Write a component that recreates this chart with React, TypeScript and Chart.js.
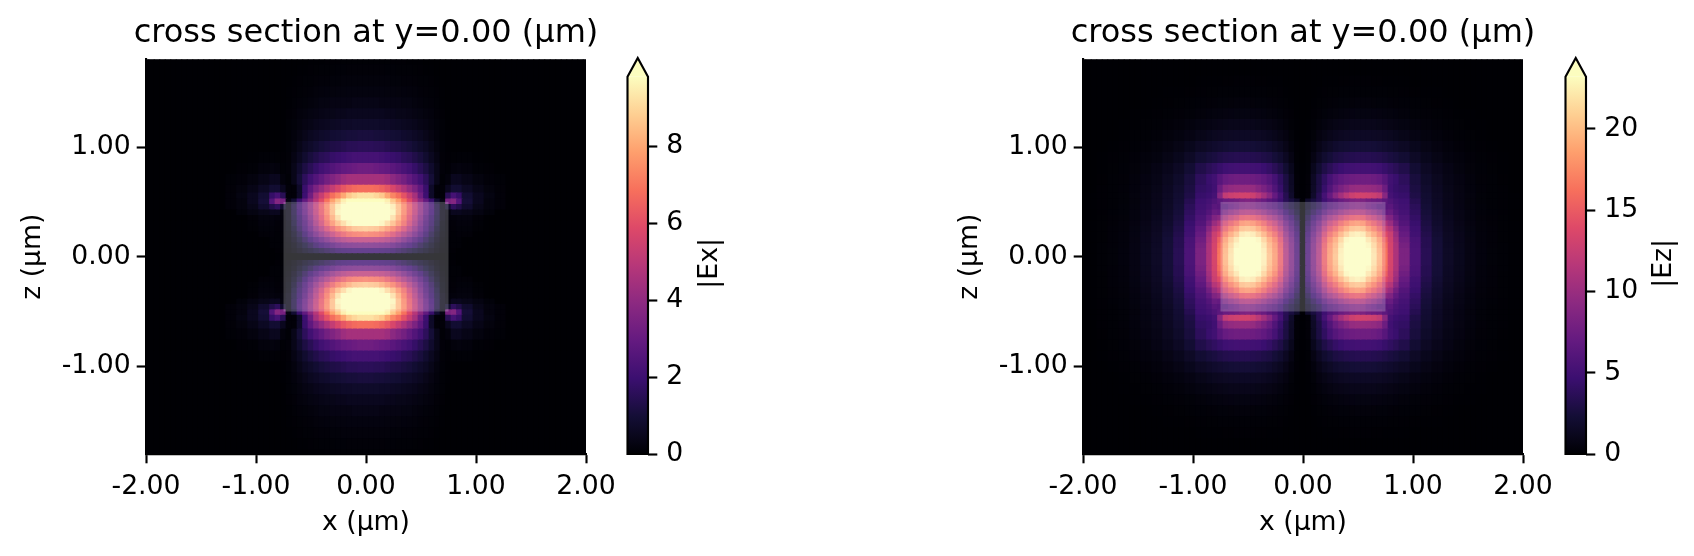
import React, { useEffect, useRef } from "react";
import { Chart, registerables } from "chart.js";

Chart.register(...registerables);

const FONT = "'DejaVu Sans'";
const TICK_PX = 26.67;
const TITLE_PX = 32;

const magmaStops = ["#000004", "#140e36", "#3b0f70", "#641a80", "#8c2981", "#b73779", "#de4968", "#f7705c", "#fe9f6d", "#fecf92", "#fcfdbf"];

const columnStep = 0.05;
const columnCount = 40;
// upper edge of each row of the half grid, the first row is centred on z = 0
const rowEdges = [0.025, 0.075, 0.125, 0.175, 0.225, 0.275, 0.325, 0.375, 0.425, 0.475, 0.525, 0.58, 0.65, 0.75, 0.85, 0.95, 1.05, 1.15, 1.25, 1.35, 1.45, 1.55, 1.65, 1.75, 1.85];
const xTicks = [-2, -1, 0, 1, 2];
const zTicks = [-1, 0, 1];
const exBarTicks = [0, 2, 4, 6, 8];
const ezBarTicks = [0, 5, 10, 15, 20];
const exMax = 9.8;
const ezMax = 23.2;
const guideX = [-0.75, 0.75];
const guideZ = [-0.5, 0.5];

// |Ex| on one quadrant: one list per row, from x = 0 outwards
const exField = [
  [0.06, 0.06, 0.06, 0.06, 0.06, 0.06, 0.05, 0.05, 0.05, 0.04, 0.04, 0.03, 0.03, 0.02, 0.02, 0.01, 0.01],
  [2, 2, 2, 1.95, 1.9, 1.8, 1.6, 1.4, 1.2, 1, 0.8, 0.6, 0.4, 0.2, 0.08, 0.04, 0.03],
  [3.3, 3.3, 3.25, 3.2, 3.1, 2.9, 2.6, 2.3, 2, 1.7, 1.3, 0.95, 0.6, 0.3, 0.12, 0.05, 0.05, 0.05],
  [5, 5, 4.95, 4.85, 4.6, 4.3, 3.9, 3.4, 2.9, 2.4, 1.9, 1.4, 0.9, 0.45, 0.15, 0.05, 0.05, 0.06],
  [7, 6.9, 6.8, 6.6, 6.2, 5.7, 5.1, 4.5, 3.9, 3.2, 2.5, 1.8, 1.2, 0.6, 0.2, 0.08, 0.05, 0.1, 0.08, 0.08],
  [8.6, 8.5, 8.4, 8, 7.5, 7, 6.3, 5.6, 4.7, 3.9, 3, 2.2, 1.5, 0.8, 0.25, 0.1, 0.08, 0.12, 0.12, 0.12, 0.04, 0.04],
  [10.3, 10.2, 10, 9.6, 9, 8.3, 7.4, 6.5, 5.4, 4.4, 3.3, 2.4, 1.7, 1, 0.3, 0.1, 0.1, 0.15, 0.15, 0.15, 0.05, 0.05],
  [12, 11.9, 11.6, 11, 10.2, 9.1, 8, 6.9, 5.8, 4.7, 3.6, 2.6, 1.8, 1.1, 0.4, 0.15, 0.15, 0.2, 0.2, 0.2, 0.08, 0.08],
  [12.5, 12.4, 12.1, 11.5, 10.7, 9.6, 8.4, 7.2, 6.1, 5, 3.9, 2.9, 2, 1.2, 0.4, 0.2, 0.5, 0.5, 0.4, 0.4, 0.25, 0.25, 0.12, 0.12],
  [12.4, 12.2, 11.9, 11.3, 10.4, 9.4, 8.4, 7.3, 6.2, 5.1, 4, 3, 2.1, 1.2, 0.4, 0.8, 1.6, 1.3, 0.8, 0.8, 0.4, 0.4, 0.2, 0.2, 0.1, 0.1],
  [11.2, 11.1, 10.8, 10.2, 9.5, 8.7, 7.9, 6.9, 5.9, 4.9, 3.9, 2.9, 1.9, 0.9, 0.3, 3.4, 3.7, 2.5, 1, 1, 0.5, 0.5, 0.2, 0.2, 0.1, 0.1],
  [9.2, 9.2, 9, 8.7, 8, 7.3, 6.8, 6.1, 5.3, 4.5, 3.2, 2, 0.7, 0.1, 0.1, 1.5, 2.2, 1.8, 0.9, 0.9, 0.5, 0.5, 0.25, 0.25, 0.1, 0.1],
  [6.8, 6.8, 6.7, 6.5, 6.2, 5.7, 5.2, 4.7, 4.1, 3.5, 2.8, 1.9, 0.7, 0.1, 0.1, 0.5, 0.9, 0.9, 0.6, 0.6, 0.35, 0.35, 0.18, 0.18, 0.08, 0.08],
  [4.5, 4.5, 4.5, 4.5, 4.3, 3.9, 3.6, 3.3, 2.9, 2.5, 2.1, 1.6, 1, 0.4, 0.05, 0.15, 0.5, 0.5, 0.35, 0.35, 0.2, 0.2, 0.1, 0.1, 0.05, 0.05],
  [3.2, 3.2, 3.1, 3, 2.9, 2.7, 2.5, 2.3, 2.1, 1.8, 1.5, 1.2, 0.8, 0.4, 0.1, 0.05, 0.15, 0.2, 0.15, 0.15, 0.06, 0.06, 0.03, 0.03],
  [2.2, 2.2, 2.2, 2.1, 2, 1.9, 1.8, 1.6, 1.5, 1.3, 1.1, 0.85, 0.55, 0.3, 0.08, 0.03, 0.04, 0.06, 0.05, 0.05, 0.02, 0.02],
  [1.55, 1.55, 1.5, 1.5, 1.4, 1.3, 1.25, 1.15, 1.05, 0.9, 0.75, 0.6, 0.4, 0.2, 0.07, 0.02],
  [1.1, 1.1, 1.05, 1.05, 1, 0.95, 0.9, 0.8, 0.75, 0.65, 0.55, 0.42, 0.28, 0.16, 0.06, 0.02],
  [0.75, 0.75, 0.75, 0.7, 0.7, 0.65, 0.6, 0.55, 0.5, 0.45, 0.35, 0.3, 0.2, 0.12, 0.05],
  [0.5, 0.5, 0.5, 0.5, 0.45, 0.45, 0.4, 0.4, 0.35, 0.3, 0.25, 0.2, 0.15, 0.08, 0.03],
  [0.35, 0.35, 0.35, 0.3, 0.3, 0.3, 0.3, 0.25, 0.25, 0.2, 0.15, 0.12, 0.1, 0.05, 0.02],
  [0.22, 0.22, 0.22, 0.21, 0.2, 0.2, 0.18, 0.17, 0.15, 0.13, 0.1, 0.08, 0.06, 0.03, 0.01],
  [0.14, 0.14, 0.14, 0.13, 0.13, 0.12, 0.11, 0.1, 0.09, 0.08, 0.06, 0.05, 0.03, 0.02],
  [0.08, 0.08, 0.08, 0.08, 0.07, 0.07, 0.06, 0.06, 0.05, 0.04, 0.03, 0.02, 0.01],
  [0.04, 0.04, 0.04, 0.04, 0.04, 0.03, 0.03, 0.03, 0.02, 0.02, 0.01],
];

// |Ez| on one quadrant: one list per row, from x = 0 outwards
const ezField = [
  [0.2, 5.5, 8.3, 11, 15, 18, 20, 22.5, 24.5, 26, 26.5, 26, 23.5, 21.8, 19.5, 16.5, 13.5, 11, 8.3, 8.3, 5.6, 5.6, 3.5, 3.5, 2.4, 2.4, 1.6, 1.6, 1.1, 1.1, 0.7, 0.7, 0.4, 0.4, 0.25, 0.25, 0.12, 0.12, 0.05, 0.05],
  [0.2, 5.4, 8.2, 10.9, 14.9, 17.8, 19.8, 22.3, 24.3, 25.7, 26.2, 25.7, 23.3, 21.6, 19.3, 16.4, 13.4, 11, 8.3, 8.3, 5.6, 5.6, 3.5, 3.5, 2.4, 2.4, 1.6, 1.6, 1.1, 1.1, 0.7, 0.7, 0.4, 0.4, 0.25, 0.25, 0.12, 0.12, 0.05, 0.05],
  [0.2, 5.3, 8.1, 10.7, 14.6, 17.5, 19.4, 21.8, 23.8, 25.2, 25.7, 25.2, 22.8, 21.1, 18.9, 16, 13.3, 10.9, 8, 8, 5.5, 5.5, 3.4, 3.4, 2.35, 2.35, 1.55, 1.55, 1.08, 1.08, 0.68, 0.68, 0.39, 0.39, 0.24, 0.24, 0.12, 0.12, 0.05, 0.05],
  [0.2, 5.1, 7.7, 10.2, 14, 16.7, 18.6, 20.9, 22.8, 24.2, 24.6, 24.2, 21.9, 20.3, 18.1, 15.3, 13, 10.5, 7.6, 7.6, 5.4, 5.4, 3.4, 3.4, 2.3, 2.3, 1.5, 1.5, 1.05, 1.05, 0.67, 0.67, 0.38, 0.38, 0.24, 0.24, 0.11, 0.11, 0.05, 0.05],
  [0.2, 4.7, 7.1, 9.4, 12.8, 15.3, 17, 19.1, 20.8, 22.1, 22.5, 22.1, 20, 18.5, 16.6, 14, 12.7, 10, 7.1, 7.1, 5, 5, 3.2, 3.2, 2.2, 2.2, 1.45, 1.45, 1, 1, 0.63, 0.63, 0.36, 0.36, 0.22, 0.22, 0.11, 0.11, 0.04, 0.04],
  [0.15, 4.2, 6.3, 8.4, 11.4, 13.7, 15.2, 17.1, 18.6, 19.8, 20.1, 19.8, 17.9, 16.6, 14.8, 12.5, 11.5, 9, 6.6, 6.6, 4.8, 4.8, 3, 3, 2.05, 2.05, 1.35, 1.35, 0.94, 0.94, 0.6, 0.6, 0.34, 0.34, 0.21, 0.21, 0.1, 0.1, 0.04, 0.04],
  [0.15, 3.7, 5.6, 7.4, 10, 12.1, 13.4, 15.1, 16.4, 17.4, 17.8, 17.4, 15.7, 14.6, 13.1, 11.1, 10, 7.8, 6, 6, 4.5, 4.5, 2.8, 2.8, 1.9, 1.9, 1.3, 1.3, 0.88, 0.88, 0.56, 0.56, 0.32, 0.32, 0.2, 0.2, 0.1, 0.1, 0.04, 0.04],
  [0.12, 3, 4.6, 6, 8.3, 9.9, 11, 12.4, 13.5, 14.3, 14.6, 14.3, 12.9, 12, 10.7, 9.1, 8.5, 6.8, 5.6, 5.6, 4.2, 4.2, 2.6, 2.6, 1.8, 1.8, 1.2, 1.2, 0.81, 0.81, 0.52, 0.52, 0.3, 0.3, 0.18, 0.18, 0.09, 0.09, 0.03, 0.03],
  [0.1, 2.3, 3.5, 4.6, 6.3, 7.6, 8.4, 9.5, 10.3, 10.9, 11.1, 10.9, 9.9, 9.2, 8.2, 7, 7.2, 6, 5.2, 5.2, 3.9, 3.9, 2.45, 2.45, 1.7, 1.7, 1.1, 1.1, 0.77, 0.77, 0.49, 0.49, 0.28, 0.28, 0.17, 0.17, 0.08, 0.08, 0.03, 0.03],
  [0.1, 1.8, 2.7, 3.5, 4.8, 5.8, 6.4, 7.2, 7.8, 8.3, 8.5, 8.3, 7.5, 7, 6.2, 6.2, 6.4, 5.5, 5, 5, 3.7, 3.7, 2.3, 2.3, 1.6, 1.6, 1.05, 1.05, 0.73, 0.73, 0.46, 0.46, 0.26, 0.26, 0.16, 0.16, 0.08, 0.08, 0.03, 0.03],
  [0.1, 1.8, 2.7, 3.5, 4.8, 5.8, 6.4, 7.2, 7.8, 8.3, 8.5, 8.3, 7.8, 7.5, 7.2, 6.5, 5.8, 5.2, 4.8, 4.8, 3.4, 3.4, 2.2, 2.2, 1.55, 1.55, 1, 1, 0.7, 0.7, 0.44, 0.44, 0.25, 0.25, 0.15, 0.15, 0.08, 0.08, 0.03, 0.03],
  [0.05, 0.2, 1.8, 3.4, 5.2, 7, 9, 10.5, 11.8, 12.8, 13.2, 13.2, 13, 12.8, 12.2, 9, 5.2, 4.7, 4.4, 4.4, 3, 3, 2.1, 2.1, 1.5, 1.5, 1, 1, 0.7, 0.7, 0.45, 0.45, 0.25, 0.25, 0.15, 0.15, 0.08, 0.08, 0.03, 0.03],
  [0.05, 0.2, 1.6, 2.9, 4.4, 5.8, 7.2, 8.2, 9, 9.7, 9.9, 9.9, 9.8, 9.6, 9.2, 7.4, 4.9, 4.4, 4.1, 4.1, 2.8, 2.8, 1.95, 1.95, 1.4, 1.4, 0.95, 0.95, 0.65, 0.65, 0.4, 0.4, 0.22, 0.22, 0.13, 0.13, 0.07, 0.07, 0.02, 0.02],
  [0.05, 0.2, 1.5, 2.8, 4, 5.2, 6.1, 6.8, 7.2, 7.5, 7.6, 7.6, 7.6, 7.4, 7.1, 6.2, 5, 4.5, 3.8, 3.8, 2.6, 2.6, 1.75, 1.75, 1.25, 1.25, 0.85, 0.85, 0.58, 0.58, 0.36, 0.36, 0.2, 0.2, 0.12, 0.12, 0.06, 0.06, 0.02, 0.02],
  [0.03, 0.15, 1.1, 2.1, 3, 3.6, 4.2, 4.6, 4.9, 5, 5.1, 5.1, 5.1, 5, 4.8, 4.4, 4, 3.6, 3.1, 3.1, 2.2, 2.2, 1.5, 1.5, 1.05, 1.05, 0.72, 0.72, 0.48, 0.48, 0.3, 0.3, 0.17, 0.17, 0.1, 0.1, 0.05, 0.05],
  [0.02, 0.1, 0.7, 1.4, 2, 2.4, 2.8, 3, 3.2, 3.3, 3.4, 3.4, 3.4, 3.3, 3.2, 3, 2.7, 2.5, 2.2, 2.2, 1.6, 1.6, 1.1, 1.1, 0.78, 0.78, 0.52, 0.52, 0.35, 0.35, 0.22, 0.22, 0.12, 0.12, 0.07, 0.07, 0.03, 0.03],
  [0.01, 0.07, 0.4, 0.9, 1.3, 1.6, 1.9, 2.1, 2.2, 2.3, 2.35, 2.35, 2.35, 2.3, 2.2, 2.05, 1.9, 1.7, 1.5, 1.5, 1.1, 1.1, 0.8, 0.8, 0.55, 0.55, 0.36, 0.36, 0.24, 0.24, 0.15, 0.15, 0.08, 0.08, 0.04, 0.04, 0.02, 0.02],
  [0.01, 0.05, 0.25, 0.55, 0.8, 1, 1.2, 1.35, 1.45, 1.5, 1.55, 1.55, 1.55, 1.5, 1.45, 1.35, 1.25, 1.1, 0.95, 0.95, 0.7, 0.7, 0.5, 0.5, 0.35, 0.35, 0.23, 0.23, 0.15, 0.15, 0.09, 0.09, 0.05, 0.05, 0.02, 0.02],
  [0, 0.03, 0.14, 0.32, 0.5, 0.65, 0.78, 0.88, 0.95, 1, 1.02, 1.02, 1.02, 1, 0.95, 0.88, 0.8, 0.7, 0.6, 0.6, 0.45, 0.45, 0.32, 0.32, 0.22, 0.22, 0.14, 0.14, 0.09, 0.09, 0.05, 0.05, 0.03, 0.03],
  [0, 0.02, 0.08, 0.18, 0.28, 0.36, 0.44, 0.5, 0.55, 0.58, 0.6, 0.6, 0.6, 0.58, 0.55, 0.5, 0.45, 0.4, 0.34, 0.34, 0.25, 0.25, 0.18, 0.18, 0.12, 0.12, 0.08, 0.08, 0.05, 0.05, 0.03, 0.03],
  [0, 0.01, 0.04, 0.09, 0.14, 0.19, 0.23, 0.26, 0.28, 0.3, 0.32, 0.32, 0.32, 0.3, 0.28, 0.26, 0.23, 0.2, 0.17, 0.17, 0.13, 0.13, 0.09, 0.09, 0.06, 0.06, 0.04, 0.04, 0.02, 0.02],
  [0, 0, 0.02, 0.04, 0.07, 0.09, 0.11, 0.13, 0.14, 0.15, 0.15, 0.15, 0.15, 0.14, 0.13, 0.12, 0.1, 0.09, 0.08, 0.08, 0.06, 0.06, 0.04, 0.04, 0.03, 0.03, 0.01, 0.01],
  [0, 0, 0.01, 0.02, 0.03, 0.04, 0.05, 0.06, 0.06, 0.07, 0.07, 0.07, 0.07, 0.06, 0.06, 0.05, 0.04, 0.03, 0.03, 0.03, 0.02, 0.02, 0.01, 0.01],
  [],
  [],
];

function hexToRgb(h: string) {
  return [parseInt(h.slice(1, 3), 16), parseInt(h.slice(3, 5), 16), parseInt(h.slice(5, 7), 16)];
}
const magmaRgb = magmaStops.map(hexToRgb);

function magma(t: number) {
  const clamped = Math.max(0, Math.min(1, t));
  const pos = clamped * (magmaRgb.length - 1);
  const i = Math.min(magmaRgb.length - 2, Math.floor(pos));
  const f = pos - i;
  const c = magmaRgb[i].map((a, k) => Math.round(a + (magmaRgb[i + 1][k] - a) * f));
  return `rgb(${c[0]},${c[1]},${c[2]})`;
}

function fieldDatasets(field: number[][], vmax: number) {
  const sets: any[] = [];
  field.forEach((row, r) => {
    const top = rowEdges[r];
    const bottom = r === 0 ? -rowEdges[0] : rowEdges[r - 1];
    const spans = r === 0 ? [[-top, top]] : [[bottom, top], [-top, -bottom]];
    spans.forEach((span) => {
      const data: any[] = [];
      const colors: string[] = [];
      for (let c = -columnCount; c <= columnCount; c++) {
        data.push({ x: c * columnStep, y: span });
        colors.push(magma((row[Math.abs(c)] ?? 0) / vmax));
      }
      sets.push({ data, backgroundColor: colors, borderWidth: 0, inflateAmount: 0.6, grouped: false, barPercentage: 1, categoryPercentage: 1 });
    });
  });
  return sets;
}

const guidePlugin = {
  id: "guide",
  afterLayout(chart: any) {
    // the title is wider than the plot: let it run past both sides without being squeezed
    chart.titleBlock.left -= 60;
    chart.titleBlock.right += 60;
  },
  beforeDatasetsDraw(chart: any) {
    const { ctx, chartArea: a } = chart;
    ctx.save();
    ctx.fillStyle = magmaStops[0];
    ctx.fillRect(a.left, a.top, a.width, a.height);
    ctx.restore();
  },
  afterDatasetsDraw(chart: any) {
    const { ctx, scales, chartArea } = chart;
    const x0 = scales.x.getPixelForValue(guideX[0]);
    const x1 = scales.x.getPixelForValue(guideX[1]);
    const y0 = scales.y.getPixelForValue(guideZ[1]);
    const y1 = scales.y.getPixelForValue(guideZ[0]);
    ctx.save();
    ctx.beginPath();
    ctx.rect(chartArea.left, chartArea.top, chartArea.width, chartArea.height);
    ctx.clip();
    ctx.fillStyle = "rgba(255,255,255,0.21)";
    ctx.fillRect(x0, y0, x1 - x0, y1 - y0);
    ctx.restore();
  },
};

function HeatPanel({ field, vmax, left }: { field: number[][]; vmax: number; left: number }) {
  const ref = useRef<HTMLCanvasElement>(null);
  useEffect(() => {
    const tickStyle = { color: "#000", font: { family: FONT, size: TICK_PX } };
    const chart = new Chart(ref.current!, {
      type: "bar",
      data: { datasets: fieldDatasets(field, vmax) },
      plugins: [guidePlugin],
      options: {
        animation: false,
        responsive: false,
        devicePixelRatio: 1,
        layout: { padding: { top: 3, right: 34, left: 0, bottom: 0 } },
        plugins: {
          legend: { display: false },
          tooltip: { enabled: false },
          title: {
            display: true,
            fullSize: false,
            text: "cross section at y=0.00 (µm)",
            color: "#000",
            font: { family: FONT, size: TITLE_PX, weight: "normal" },
            padding: { top: 11, bottom: 7 },
          },
        },
        scales: {
          x: {
            type: "linear",
            offset: false,
            min: -2,
            max: 2,
            afterBuildTicks: (s: any) => { s.ticks = xTicks.map((value) => ({ value })); },
            afterFit: (s: any) => { s.height = 102; s.paddingLeft = 0; s.paddingRight = 0; },
            grid: { offset: false, drawOnChartArea: false, tickLength: 9.3, tickWidth: 2.13, tickColor: "#000" },
            border: { display: true, color: "#000", width: 2.13 },
            ticks: { ...tickStyle, padding: 8, maxRotation: 0, callback: (v: any) => Number(v).toFixed(2) },
            title: { display: true, text: "x (µm)", color: "#000", font: { family: FONT, size: TICK_PX }, padding: { top: 0, bottom: 17 } },
          },
          y: {
            type: "linear",
            min: -1.8,
            max: 1.8,
            afterBuildTicks: (s: any) => { s.ticks = zTicks.map((value) => ({ value })); },
            afterFit: (s: any) => { s.width = 146; s.paddingTop = 0; s.paddingBottom = 0; },
            grid: { drawOnChartArea: false, tickLength: 9.3, tickWidth: 2.13, tickColor: "#000" },
            border: { display: true, color: "#000", width: 2.13 },
            ticks: { ...tickStyle, padding: 6, callback: (v: any) => Number(v).toFixed(2) },
            title: { display: true, text: "z (µm)", color: "#000", font: { family: FONT, size: TICK_PX }, padding: { top: 17, bottom: 0 } },
          },
        },
      } as any,
    } as any);
    return () => chart.destroy();
  }, []);
  return <canvas ref={ref} width={620} height={556} style={{ position: "absolute", left, top: 0, display: "block" }} />;
}

function ColorBar({ vmax, ticks, label, left, labelGap }: { vmax: number; ticks: number[]; label: string; left: number; labelGap: number }) {
  const ref = useRef<HTMLCanvasElement>(null);
  useEffect(() => {
    const barPlugin = {
      id: "barFrame",
      afterDatasetsDraw(chart: any) {
        const { ctx, chartArea: a } = chart;
        const mid = (a.left + a.right) / 2;
        ctx.save();
        ctx.beginPath();
        ctx.moveTo(a.left, a.top);
        ctx.lineTo(mid, a.top - 18.7);
        ctx.lineTo(a.right, a.top);
        ctx.closePath();
        ctx.fillStyle = magmaStops[magmaStops.length - 1];
        ctx.fill();
        ctx.beginPath();
        ctx.moveTo(a.left, a.bottom);
        ctx.lineTo(a.left, a.top);
        ctx.lineTo(mid, a.top - 18.7);
        ctx.lineTo(a.right, a.top);
        ctx.lineTo(a.right, a.bottom);
        ctx.closePath();
        ctx.strokeStyle = "#000";
        ctx.lineWidth = 2.13;
        ctx.stroke();
        ctx.translate(a.right + labelGap, (a.top + a.bottom) / 2 - 2);
        ctx.rotate(-Math.PI / 2);
        ctx.font = `${TICK_PX}px ${FONT}`;
        ctx.fillStyle = "#000";
        ctx.textAlign = "center";
        ctx.textBaseline = "middle";
        ctx.fillText(label, 0, 0);
        ctx.restore();
      },
    };
    const chart = new Chart(ref.current!, {
      type: "bar",
      data: {
        datasets: [
          {
            data: [{ x: 0.5, y: [0, vmax] }],
            borderWidth: 0,
            barPercentage: 1,
            categoryPercentage: 1,
            backgroundColor: (c: any) => {
              const area = c.chart.chartArea;
              if (!area) return "#000";
              const g = c.chart.ctx.createLinearGradient(0, area.bottom, 0, area.top);
              magmaStops.forEach((s, i) => g.addColorStop(i / (magmaStops.length - 1), s));
              return g;
            },
          },
        ],
      },
      plugins: [barPlugin],
      options: {
        animation: false,
        responsive: false,
        devicePixelRatio: 1,
        layout: { padding: { top: 76.7, left: 7.5, right: 0, bottom: 102 } },
        plugins: { legend: { display: false }, tooltip: { enabled: false } },
        scales: {
          x: { type: "linear", display: false, offset: false, min: 0, max: 1 },
          y: {
            type: "linear",
            position: "right",
            min: 0,
            max: vmax,
            afterBuildTicks: (s: any) => { s.ticks = ticks.map((value) => ({ value })); },
            afterFit: (s: any) => { s.width = 92; s.paddingTop = 0; s.paddingBottom = 0; },
            grid: { drawOnChartArea: false, tickLength: 9.3, tickWidth: 2.13, tickColor: "#000" },
            border: { display: false },
            ticks: { color: "#000", font: { family: FONT, size: TICK_PX }, padding: 9 },
          },
        },
      } as any,
    } as any);
    return () => chart.destroy();
  }, []);
  return <canvas ref={ref} width={120} height={556} style={{ position: "absolute", left, top: 0, display: "block" }} />;
}

export default function App() {
  return (
    <div style={{ position: "absolute", left: 0, top: 0, width: 1694, height: 556, background: "#fff", overflow: "hidden" }}>
      <HeatPanel field={exField} vmax={exMax} left={0} />
      <ColorBar vmax={exMax} ticks={exBarTicks} label="|Ex|" left={620} labelGap={62} />
      <HeatPanel field={ezField} vmax={ezMax} left={937} />
      <ColorBar vmax={ezMax} ticks={ezBarTicks} label="|Ez|" left={1558} labelGap={78} />
    </div>
  );
}
